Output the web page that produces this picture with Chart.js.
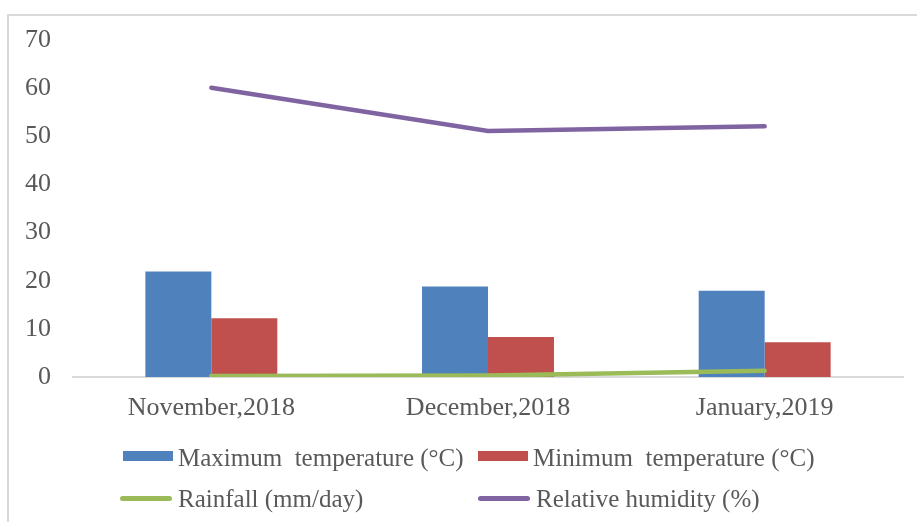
<!DOCTYPE html>
<html>
<head>
<meta charset="utf-8">
<script src="https://cdn.jsdelivr.net/npm/chart.js@4"></script>
<style>
	body { margin:0; background:#fff; }
	#wrap { position:relative; width:917px; height:522px; overflow:hidden; font-family:'Liberation Serif','Times New Roman',serif; color:#595959; }
	#frame { position:absolute; left:7px; top:14px; width:1000px; height:600px; border-left:2px solid #d9d9d9; border-top:2px solid #d9d9d9; }
	.lg { position:absolute; font-size:25px; line-height:25px; white-space:pre; }
	.sw { position:absolute; }
</style>
</head>
<body>
<div id="wrap">
	<div id="frame"></div>
	<canvas id="c" width="917" height="522" style="position:absolute; left:0; top:0;"></canvas>
	<div id="legend"></div>
</div>
<script>
const categories = ['November,2018', 'December,2018', 'January,2019']
const maxTemp = [21.9, 18.8, 17.9]
const minTemp = [12.2, 8.3, 7.2]
const rainfall = [0.2, 0.3, 1.3]
const humidity = [60.1, 51.1, 52.1]
const yTicks = [0, 10, 20, 30, 40, 50, 60, 70]

const warna = { max:'#4F81BD', min:'#C0504D', rain:'#9BBB59', rh:'#8064A2' }
const huruf = "'Liberation Serif', 'Times New Roman', serif"

const chart = new Chart(document.getElementById('c'), {
	type: 'bar',
	data: {
		labels: categories,
		datasets: [
			{ type:'line', label:'Relative humidity (%)', data:humidity, borderColor:warna.rh, backgroundColor:warna.rh, borderWidth:4.5, pointRadius:0, borderCapStyle:'round', order:0 },
			{ type:'line', label:'Rainfall (mm/day)', data:rainfall, borderColor:warna.rain, backgroundColor:warna.rain, borderWidth:4.5, pointRadius:0, borderCapStyle:'round', order:0 },
			{ label:'Maximum  temperature (°C)', data:maxTemp, backgroundColor:warna.max, categoryPercentage:0.477, barPercentage:1, order:1 },
			{ label:'Minimum  temperature (°C)', data:minTemp, backgroundColor:warna.min, categoryPercentage:0.477, barPercentage:1, order:1 },
		]
	},
	options: {
		responsive: false,
		animation: false,
		layout: { padding: { top:40, right:14, bottom:0, left:0 } },
		plugins: { legend: { display:false }, tooltip: { enabled:false } },
		scales: {
			x: {
				grid: { display:false, drawTicks:false },
				border: { display:true, color:'#d9d9d9', width:2 },
				ticks: { color:'#595959', font:{ family:huruf, size:26 }, padding:16, maxRotation:0 },
				afterFit: s => { s.height = 145 }
			},
			y: {
				min: 0, max: 70,
				grid: { display:false, drawTicks:false },
				border: { display:false },
				afterBuildTicks: s => { s.ticks = yTicks.map(v => ({ value:v })) },
				ticks: { color:'#595959', font:{ family:huruf, size:26 }, padding:22 },
				afterFit: s => { s.width = 73 }
			}
		}
	}
})

// legend di bawah, dua kolom rata kiri
const legend = document.getElementById('legend')
const items = [
	{ ds:2, x:123, y:450, kind:'box' },
	{ ds:3, x:478, y:450, kind:'box' },
	{ ds:1, x:120, y:491, kind:'line' },
	{ ds:0, x:478, y:491, kind:'line' },
]
items.forEach(a => {
	const ds = chart.data.datasets[a.ds]
	const sw = document.createElement('div')
	sw.className = 'sw'
	if (a.kind == 'box') sw.style.cssText = `left:${a.x}px; top:${a.y + 1}px; width:50px; height:10px; background:${ds.backgroundColor};`
	else sw.style.cssText = `left:${a.x}px; top:${a.y + 5}px; width:52px; height:5px; border-radius:3px; background:${ds.borderColor};`
	legend.appendChild(sw)
	const t = document.createElement('div')
	t.className = 'lg'
	t.style.left = (a.kind == 'box' ? a.x + 55 : 178 + (a.x > 300 ? 358 : 0)) + 'px'
	t.style.top = (a.y - 5) + 'px'
	t.textContent = ds.label
	legend.appendChild(t)
})
</script>
</body>
</html>
